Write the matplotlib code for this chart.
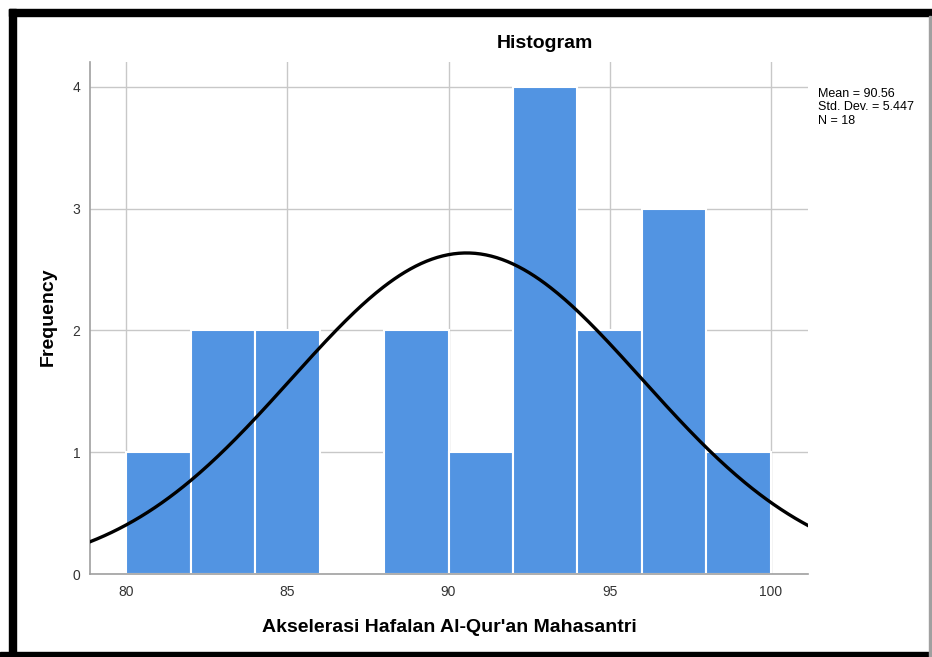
import numpy as np
import matplotlib
matplotlib.use("Agg")
import matplotlib.pyplot as plt
from matplotlib.patches import Rectangle

plt.rcParams['font.family'] = ['Liberation Sans', 'DejaVu Sans']

bin_edges = [80, 82, 84, 86, 88, 90, 92, 94, 96, 98, 100]
counts = [1, 2, 2, 0, 2, 1, 4, 2, 3, 1]
mean = 90.56
std = 5.447
n = 18
x_ticks = [80, 85, 90, 95, 100]
y_ticks = [0, 1, 2, 3, 4]

W, H = 932, 657
fig = plt.figure(figsize=(W / 100, H / 100), dpi=100)
fig.patch.set_facecolor('white')

ax = fig.add_axes([90 / W, 1 - 574 / H, (808 - 90) / W, (574 - 62) / H])
ax.set_xlim(78.88, 101.15)
ax.set_ylim(0, 4.205)
ax.grid(True, color='#c8c8c8', linewidth=1.0)
ax.set_axisbelow(True)

widths = np.diff(bin_edges)
ax.bar(bin_edges[:-1], counts, width=widths, align='edge', color='#5294e2',
       edgecolor='white', linewidth=1.5, zorder=2)

xs = np.linspace(78.88, 101.15, 400)
ys = n * 2 / (std * np.sqrt(2 * np.pi)) * np.exp(-0.5 * ((xs - mean) / std) ** 2)
ax.plot(xs, ys, color='black', linewidth=2.4, zorder=3)

ax.set_xticks(x_ticks)
ax.set_yticks(y_ticks)
ax.tick_params(length=0, labelsize=10, colors='#333333')
ax.tick_params(axis='x', pad=8)
ax.tick_params(axis='y', pad=7)
for s in ['top', 'right']:
    ax.spines[s].set_visible(False)
for s in ['left', 'bottom']:
    ax.spines[s].set_color('#a0a0a0')
    ax.spines[s].set_linewidth(1.2)

fig.text(545 / W, 1 - 44 / H, 'Histogram', ha='center', va='center',
         fontsize=14, fontweight='bold')
fig.text(449 / W, 1 - 628 / H, "Akselerasi Hafalan Al-Qur'an Mahasantri",
         ha='center', va='center', fontsize=14, fontweight='bold')
fig.text(48 / W, 1 - 317 / H, 'Frequency', ha='center', va='center',
         rotation=90, fontsize=14, fontweight='bold')
fig.text(818 / W, 1 - 88 / H,
         f'Mean = {mean:.2f}\nStd. Dev. = {std:.3f}\nN = {n}',
         ha='left', va='top', fontsize=9, linespacing=1.15)

# frame
fig.patches.append(Rectangle((9 / W, 1 - 16 / H), 1, 7 / H, transform=fig.transFigure,
                             color='black', zorder=10))
fig.patches.append(Rectangle((9 / W, 0), 7 / W, 1 - 9 / H, transform=fig.transFigure,
                             color='black', zorder=10))
fig.patches.append(Rectangle((0, 0), 1, 5 / H, transform=fig.transFigure,
                             color='black', zorder=10))
fig.patches.append(Rectangle((929 / W, 0), 1.5 / W, 1 - 16 / H, transform=fig.transFigure,
                             color='#a0a0a0', zorder=10))

fig.savefig('out.png', dpi=100)
